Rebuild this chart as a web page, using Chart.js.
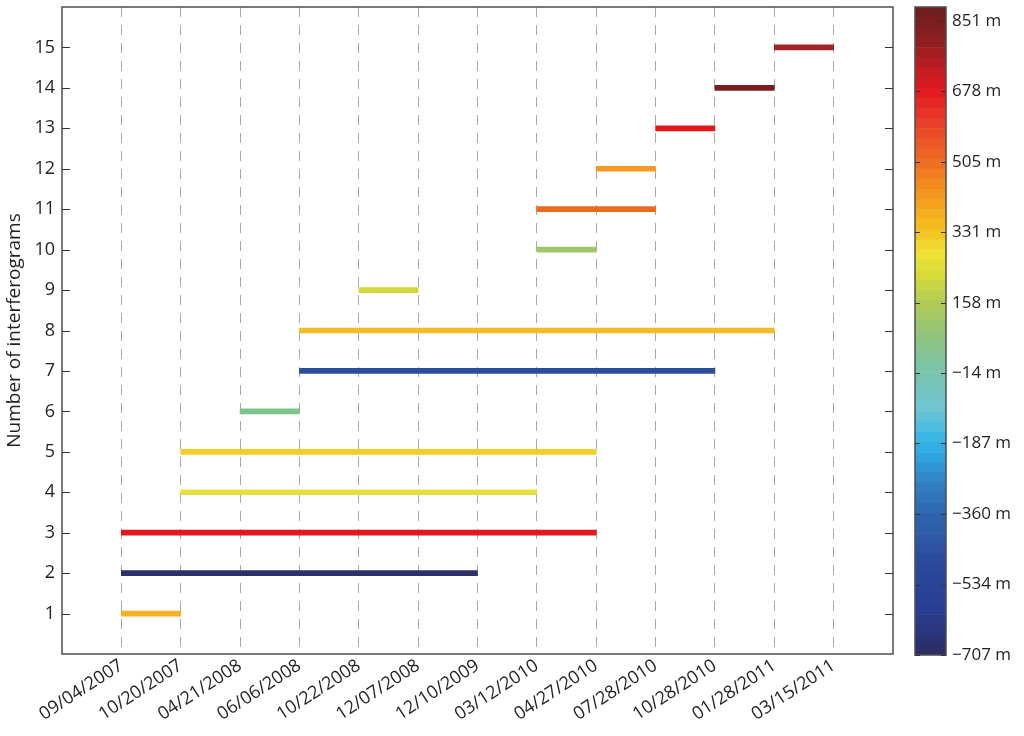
<!DOCTYPE html>
<html>
<head>
<meta charset="utf-8">
<script src="https://cdn.jsdelivr.net/npm/chart.js@4/dist/chart.umd.min.js"></script>
<style>
    body { margin: 0; background: #fff; }
    #wrap { position: relative; width: 1024px; height: 736px; }
    #main { position: absolute; left: 0; top: 0; width: 900px; height: 736px; }
    #cbar { position: absolute; left: 900px; top: 0; width: 124px; height: 736px; }
</style>
</head>
<body>
<div id="wrap">
    <canvas id="main" width="900" height="736"></canvas>
    <canvas id="cbar" width="124" height="736"></canvas>
</div>
<script>
// acquisition dates (x axis, evenly spaced)
const dates = ['09/04/2007', '10/20/2007', '04/21/2008', '06/06/2008', '10/22/2008', '12/07/2008',
    '12/10/2009', '03/12/2010', '04/27/2010', '07/28/2010', '10/28/2010', '01/28/2011', '03/15/2011'];
// interferogram number (y) and its start / end date index (1 = first date)
const rows = [1, 2, 3, 4, 5, 6, 7, 8, 9, 10, 11, 12, 13, 14, 15];
const startIdx = [1, 1, 1, 2, 2, 3, 4, 4, 5, 8, 8, 9, 10, 11, 12];
const endIdx = [2, 7, 9, 8, 9, 4, 11, 12, 6, 9, 10, 10, 11, 12, 13];
const barColors = ['#f5b023', '#2b2f6a', '#e3171f', '#e5e040', '#f1cf27', '#7dc38a', '#2a4d9c', '#f2bd27',
    '#d4d73c', '#9ec66a', '#ec6a1e', '#f29a24', '#e2151d', '#7a1e1b', '#a12426'];

// colour bar
const cbTicks = [851, 678, 505, 331, 158, -14, -187, -360, -534, -707];
const cbMin = -707;
const cbMax = 885;
const cbSteps = 64;
const cmapStops = [
    [885, '#6b1d1d'], [800, '#8f1f21'], [730, '#c11d22'], [680, '#e3181f'], [600, '#e8402a'],
    [520, '#ee6524'], [450, '#f28a20'], [390, '#f5a81f'], [330, '#f3c420'], [280, '#f1e336'],
    [220, '#d5d93a'], [160, '#b0cb55'], [80, '#92c47a'], [0, '#7ac4a6'], [-100, '#6fc6d3'],
    [-170, '#3cb8e6'], [-210, '#2ea9e3'], [-280, '#3283c4'], [-360, '#2e66ae'], [-480, '#2b4a9c'],
    [-600, '#283d92'], [-707, '#2c2c63']
];

const FONT = "'Open Sans', 'Noto Sans', sans-serif";
const TXT = '#231f20';

// colour lookup for the bar
function hexRgb(h) {
    return [parseInt(h.slice(1, 3), 16), parseInt(h.slice(3, 5), 16), parseInt(h.slice(5, 7), 16)];
}
function cmap(v) {
    for (let i = 0; i < cmapStops.length - 1; i++) {
        const [v0, c0] = cmapStops[i];
        const [v1, c1] = cmapStops[i + 1];
        if (v <= v0 && v >= v1) {
            const t = (v0 - v) / (v0 - v1);
            const a = hexRgb(c0), b = hexRgb(c1);
            return 'rgb(' + a.map((x, k) => Math.round(x + (b[k] - x) * t)).join(',') + ')';
        }
    }
    return cmapStops[cmapStops.length - 1][1];
}

// no extra room for half labels at the axis ends
function noPad(s) {
    s.paddingTop = 0;
    s.paddingBottom = 0;
    s.paddingLeft = 0;
    s.paddingRight = 0;
}

// box + inward ticks
const frame = {
    id: 'frame',
    afterDraw(chart, args, opts) {
        const { ctx, chartArea: a } = chart;
        const y = chart.scales.y;
        ctx.save();
        ctx.strokeStyle = '#4d4d4d';
        ctx.lineWidth = 1.5;
        ctx.strokeRect(a.left, a.top, a.right - a.left, a.bottom - a.top);
        ctx.lineWidth = 1.2;
        ctx.strokeStyle = '#333';
        y.ticks.forEach(t => {
            const py = Math.round(y.getPixelForValue(t.value)) + 0.5;
            ctx.beginPath();
            ctx.moveTo(a.left, py);
            ctx.lineTo(a.left + opts.len, py);
            ctx.moveTo(a.right, py);
            ctx.lineTo(a.right - opts.len, py);
            ctx.stroke();
        });
        ctx.restore();
    }
};

new Chart(document.getElementById('main'), {
    type: 'bar',
    data: {
        datasets: [{
            data: rows.map((r, i) => ({ y: r, x: [startIdx[i], endIdx[i]] })),
            backgroundColor: barColors,
            borderWidth: 0,
            barThickness: 5
        }]
    },
    options: {
        responsive: false,
        animation: false,
        indexAxis: 'y',
        layout: { padding: { top: 7, right: 7, left: 0, bottom: 0 } },
        plugins: {
            legend: { display: false },
            tooltip: { enabled: false },
            frame: { len: 8 }
        },
        scales: {
            x: {
                type: 'linear',
                min: 0,
                max: 14,
                afterBuildTicks: s => { s.ticks = dates.map((d, i) => ({ value: i + 1 })); },
                afterFit: s => { s.height = 82; noPad(s); },
                ticks: {
                    autoSkip: false,
                    minRotation: 33,
                    maxRotation: 33,
                    padding: 1,
                    color: TXT,
                    font: { family: FONT, size: 18 },
                    callback: v => dates[v - 1]
                },
                grid: { color: '#a8a8a8', lineWidth: 1, drawTicks: false, tickLength: 0 },
                border: { display: false, dash: [10, 8] }
            },
            y: {
                type: 'linear',
                offset: false,
                min: 0,
                max: 16,
                afterBuildTicks: s => { s.ticks = rows.map(v => ({ value: v })); },
                afterFit: s => { s.width = 62; noPad(s); },
                ticks: {
                    padding: 7,
                    color: TXT,
                    font: { family: FONT, size: 18 },
                    callback: v => v
                },
                grid: { display: false, drawTicks: false, tickLength: 0 },
                border: { display: false },
                title: {
                    display: true,
                    text: 'Number of interferograms',
                    color: TXT,
                    font: { family: FONT, size: 19 },
                    padding: { top: 3, bottom: 0 }
                }
            }
        }
    },
    plugins: [frame]
});

// colour bar as floating bars drawn in place
const step = (cbMax - cbMin) / cbSteps;
const bandSets = [];
for (let i = 0; i < cbSteps; i++) {
    const lo = cbMin + i * step;
    bandSets.push({
        data: [[lo, lo + step]],
        backgroundColor: cmap(lo + step / 2),
        borderWidth: 0,
        grouped: false,
        barPercentage: 1,
        categoryPercentage: 1
    });
}

new Chart(document.getElementById('cbar'), {
    type: 'bar',
    data: { labels: ['c'], datasets: bandSets },
    options: {
        responsive: false,
        animation: false,
        layout: { padding: { top: 7, left: 15, bottom: 81, right: 0 } },
        plugins: {
            legend: { display: false },
            tooltip: { enabled: false },
            frame: { len: 5 }
        },
        scales: {
            x: { display: false },
            y: {
                position: 'right',
                min: cbMin,
                max: cbMax,
                afterBuildTicks: s => { s.ticks = cbTicks.map(v => ({ value: v })); },
                afterFit: s => { s.width = 78; noPad(s); },
                ticks: {
                    padding: 6,
                    color: TXT,
                    font: { family: FONT, size: 17 },
                    callback: v => (v < 0 ? '\u2212' + Math.abs(v) : v) + ' m'
                },
                grid: { display: false, drawTicks: false, tickLength: 0 },
                border: { display: false }
            }
        }
    },
    plugins: [frame]
});
</script>
</body>
</html>
